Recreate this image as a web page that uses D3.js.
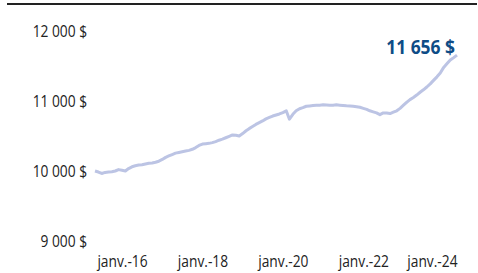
<!DOCTYPE html>
<html>
<head>
<meta charset="utf-8">
<script src="https://cdn.jsdelivr.net/npm/d3@7"></script>
<style>
  body { margin: 0; background: #fff; }
  svg { display: block; }
</style>
</head>
<body>
<div id="chart"></div>
<script>
// CONSTANTES

const width = 478
const height = 273
const plot = { left: 95, right: 457, top: 31, bottom: 241 }

// DONNEES (valeur de 10 000 $, mensuel, mai 2015 -> mai 2024)

const startMonth = new Date(2015, 4, 1)
const valeurs = [
  10000, 9985, 9965, 9980, 9985, 9990, 10000, 10020, 10010, 10000,
  10035, 10060, 10075, 10085, 10090, 10100, 10110, 10115, 10125, 10140,
  10165, 10195, 10215, 10235, 10255, 10265, 10275, 10285, 10295, 10310,
  10335, 10365, 10385, 10390, 10395, 10405, 10420, 10440, 10455, 10475,
  10495, 10515, 10510, 10500, 10535, 10575, 10605, 10635, 10665, 10690,
  10715, 10745, 10765, 10785, 10800, 10815, 10835, 10860, 10740, 10810,
  10860, 10890, 10905, 10925, 10930, 10935, 10938, 10940, 10945, 10942,
  10938, 10940, 10945, 10940, 10936, 10932, 10930, 10925, 10918, 10910,
  10895, 10880, 10860, 10845, 10830, 10805, 10830, 10828, 10820, 10840,
  10860, 10895, 10940, 10985, 11020, 11050, 11085, 11125, 11160, 11200,
  11245, 11295, 11345, 11400, 11480, 11535, 11585, 11620, 11656
]
const yTicks = [9000, 10000, 11000, 12000]
const xTicks = [2016, 2018, 2020, 2022, 2024].map(a => new Date(a, 0, 1))

const datos = valeurs.map((v, i) => ({ date: d3.timeMonth.offset(startMonth, i), value: v }))

// FORMAT

const fr = d3.formatLocale({ decimal: ",", thousands: "\u00a0", grouping: [3], currency: ["", "\u00a0$"] })
const fmt = fr.format("$,.0f")

// police etroite : on serre le texte
function serrer(sel, k) {
  sel.each(function () {
    const w = this.getComputedTextLength()
    d3.select(this).attr("textLength", w * k).attr("lengthAdjust", "spacingAndGlyphs")
  })
}

// SVG

const svg = d3.select("#chart").append("svg").attr("width", width).attr("height", height)

svg.append("line")
  .attr("x1", 7).attr("x2", 477).attr("y1", 4).attr("y2", 4)
  .attr("stroke", "#222").attr("stroke-width", 2)

// ECHELLES

const x = d3.scaleTime().domain(d3.extent(datos, d => d.date)).range([plot.left, plot.right])
const y = d3.scaleLinear().domain([9000, 12000]).range([plot.bottom, plot.top])

// AXES

const yAxisGroup = svg.append("g").attr("transform", `translate(${plot.left - 8}, 0)`)
  .call(d3.axisLeft(y).tickValues(yTicks).tickFormat(fmt).tickSize(0).tickPadding(0))
yAxisGroup.select(".domain").remove()
yAxisGroup.selectAll("text")
  .attr("font-family", "Open Sans").attr("font-size", 16).attr("fill", "#222")
  .call(serrer, 0.86)

const mois = d => "janv.-" + d3.timeFormat("%y")(d)
const xAxisGroup = svg.append("g").attr("transform", `translate(0, 256)`)
  .call(d3.axisBottom(x).tickValues(xTicks).tickFormat(mois).tickSize(0).tickPadding(0))
xAxisGroup.select(".domain").remove()
xAxisGroup.selectAll("text")
  .attr("font-family", "Open Sans").attr("font-size", 16).attr("fill", "#222")
  .call(serrer, 0.86)

// la derniere etiquette ne depasse pas la zone du graphique
xAxisGroup.selectAll(".tick").each(function (d) {
  const t = d3.select(this).select("text")
  const w = +t.attr("textLength")
  if (x(d) + w / 2 > plot.right) t.attr("text-anchor", "end").attr("x", plot.right - x(d))
})

// LIGNE

const line = d3.line().x(d => x(d.date)).y(d => y(d.value))
svg.append("path").datum(datos)
  .attr("d", line)
  .attr("fill", "none")
  .attr("stroke", "#bcc4e4")
  .attr("stroke-width", 3)
  .attr("stroke-linejoin", "round")

// ETIQUETTE FINALE

const last = datos[datos.length - 1]
svg.append("text")
  .attr("x", x(last.date) - 2)
  .attr("y", y(last.value) - 1)
  .attr("text-anchor", "end")
  .attr("font-family", "Open Sans")
  .attr("font-weight", "bold")
  .attr("font-size", 20)
  .attr("fill", "#0e4c86")
  .text(fmt(last.value))
  .call(serrer, 0.87)
</script>
</body>
</html>
